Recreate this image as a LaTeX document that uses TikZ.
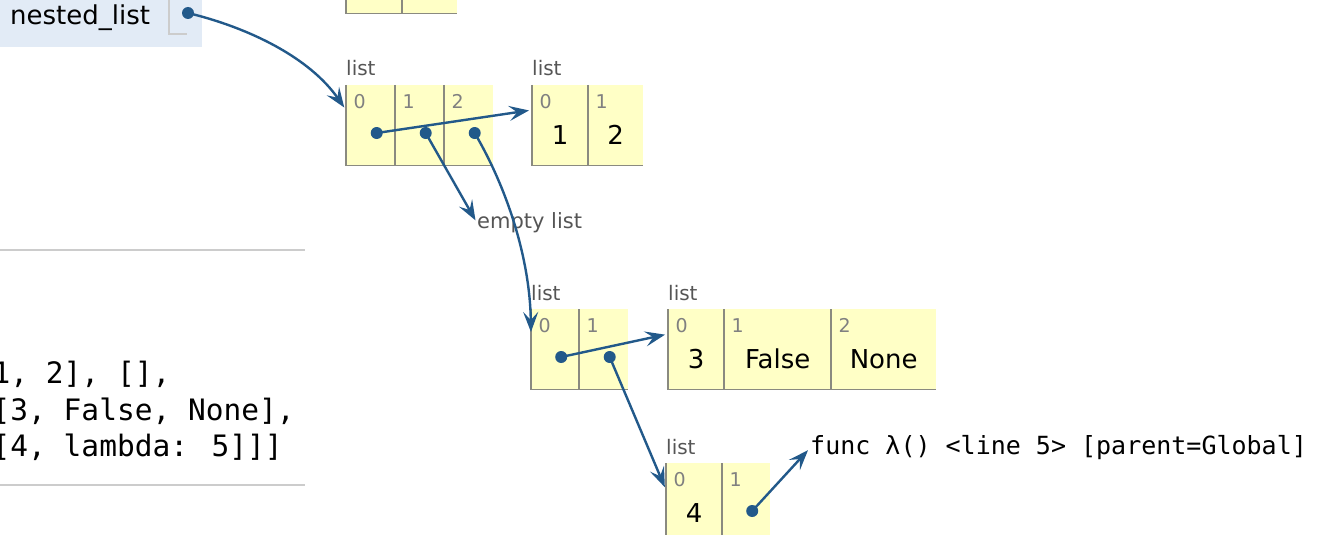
\documentclass[tikz,border=0pt]{standalone}
\usepackage{fontspec}
\setmainfont{DejaVu Sans}
\newfontfamily\codefont{DejaVu Sans Mono}
\usetikzlibrary{arrows.meta}
\definecolor{cellbg}{HTML}{FFFFC6}
\definecolor{cellrule}{HTML}{8A8A80}
\definecolor{framebg}{HTML}{E2EBF6}
\definecolor{ptr}{HTML}{22598A}
\definecolor{rulegray}{HTML}{CCCCCC}
\definecolor{idxgray}{HTML}{808080}
\definecolor{taggray}{HTML}{555555}

\begin{document}
\begin{tikzpicture}[x=1pt, y=-1pt,
    cell/.style={fill=cellbg, minimum height=80pt, inner sep=0pt, anchor=north west},
    idx/.style={text=idxgray, font=\fontsize{19}{19}\selectfont, anchor=base west, inner sep=0pt},
    val/.style={font=\fontsize{26}{26}\selectfont, anchor=base, inner sep=0pt},
    tag/.style={text=taggray, font=\fontsize{20}{20}\selectfont, anchor=base west, inner sep=0pt},
    dot/.style={circle, fill=ptr, minimum size=12pt, inner sep=0pt},
    ptrline/.style={draw=ptr, line width=2.4pt, -{Stealth[length=20pt,width=15pt,inset=8pt]}, shorten >=3pt},
    code/.style={font=\codefont\fontsize{29.5}{29.5}\selectfont, anchor=base west, inner sep=0pt}]
    \useasboundingbox (0,0) rectangle (1318,535);

    % global frame
    \fill[framebg] (0,-5) rectangle (202,47);
    \node[anchor=base west, inner sep=0pt, font=\fontsize{26}{26}\selectfont] (gvname) at (10,25) {nested\_list};
    \draw[rulegray, line width=1.2pt] (169,-5) |- (187,34);
    \node[dot] (gvptr) at (188,13) {};

    % code
    \node[code] (code1) at (-7.5,383) {1, 2], [],};
    \node[code] (code2) at (-7.5,420) {[3, False, None],};
    \node[code] (code3) at (-7.5,456) {[4, lambda: 5]]]};
    \draw[rulegray, line width=1.5pt] (0,250) -- (305,250);
    \draw[rulegray, line width=1.5pt] (0,485) -- (305,485);

    % list cells
    \foreach \nm/\x/\y/\w in {t0/346/-67/56, t1/402/-67/55, a0/346/85/49, a1/395/85/49, a2/444/85/49,
        b0/532/85/56, b1/588/85/55, c0/531/309/48, c1/579/309/49,
        d0/668/309/56, d1/724/309/107, d2/831/309/105, e0/666/463/56, e1/722/463/48}
    {
        \node[cell, minimum width=\w pt] (\nm) at (\x,\y) {};
        \draw[cellrule, line width=1.2pt] (\nm.north west) |- (\nm.south east);
    }
    \foreach \nm/\i in {a0/0, a1/1, a2/2, b0/0, b1/1, c0/0, c1/1, d0/0, d1/1, d2/2, e0/0, e1/1}
        \node[idx] (\nm-i) at ([shift={(7.5pt,-23pt)}]\nm.north west) {\i};
    \foreach \nm/\v in {b0/1, b1/2, d0/3, d1/False, d2/None, e0/4}
        \node[val] (\nm-v) at ([yshift=-59pt]\nm.north) {\v};
    \foreach \nm in {a0, b0, c0, d0, e0}
        \node[tag] (\nm-t) at ([yshift=9pt]\nm.north west) {list};
    \foreach \nm in {a0, a1, a2, c0, c1, e1}
        \node[dot] (\nm-p) at ([shift={(6pt,-48pt)}]\nm.north) {};

    \node[tag, anchor=west, font=\fontsize{21}{21}\selectfont] (empty) at (477,223) {empty list};
    \node[code, font=\codefont\fontsize{25}{25}\selectfont] (func) at (810,454) {func λ() <line 5> [parent=Global]};

    % pointers
    \draw[ptrline] (gvptr.center) .. controls (250,28) and (310,58) .. ([yshift=-25pt]a0.north west);
    \draw[ptrline] (a0-p.center) -- ([yshift=-25pt]b0.north west);
    \draw[ptrline] (a1-p.center) -- (empty.west);
    \draw[ptrline] (a2-p.center) .. controls (508,190) and (530,260) .. ([yshift=-26pt]c0.north west);
    \draw[ptrline] (c0-p.center) -- ([yshift=-25pt]d0.north west);
    \draw[ptrline] (c1-p.center) -- ([yshift=-27pt]e0.north west);
    \draw[ptrline] (e1-p.center) -- ([yshift=6pt]func.base west);
\end{tikzpicture}
\end{document}
